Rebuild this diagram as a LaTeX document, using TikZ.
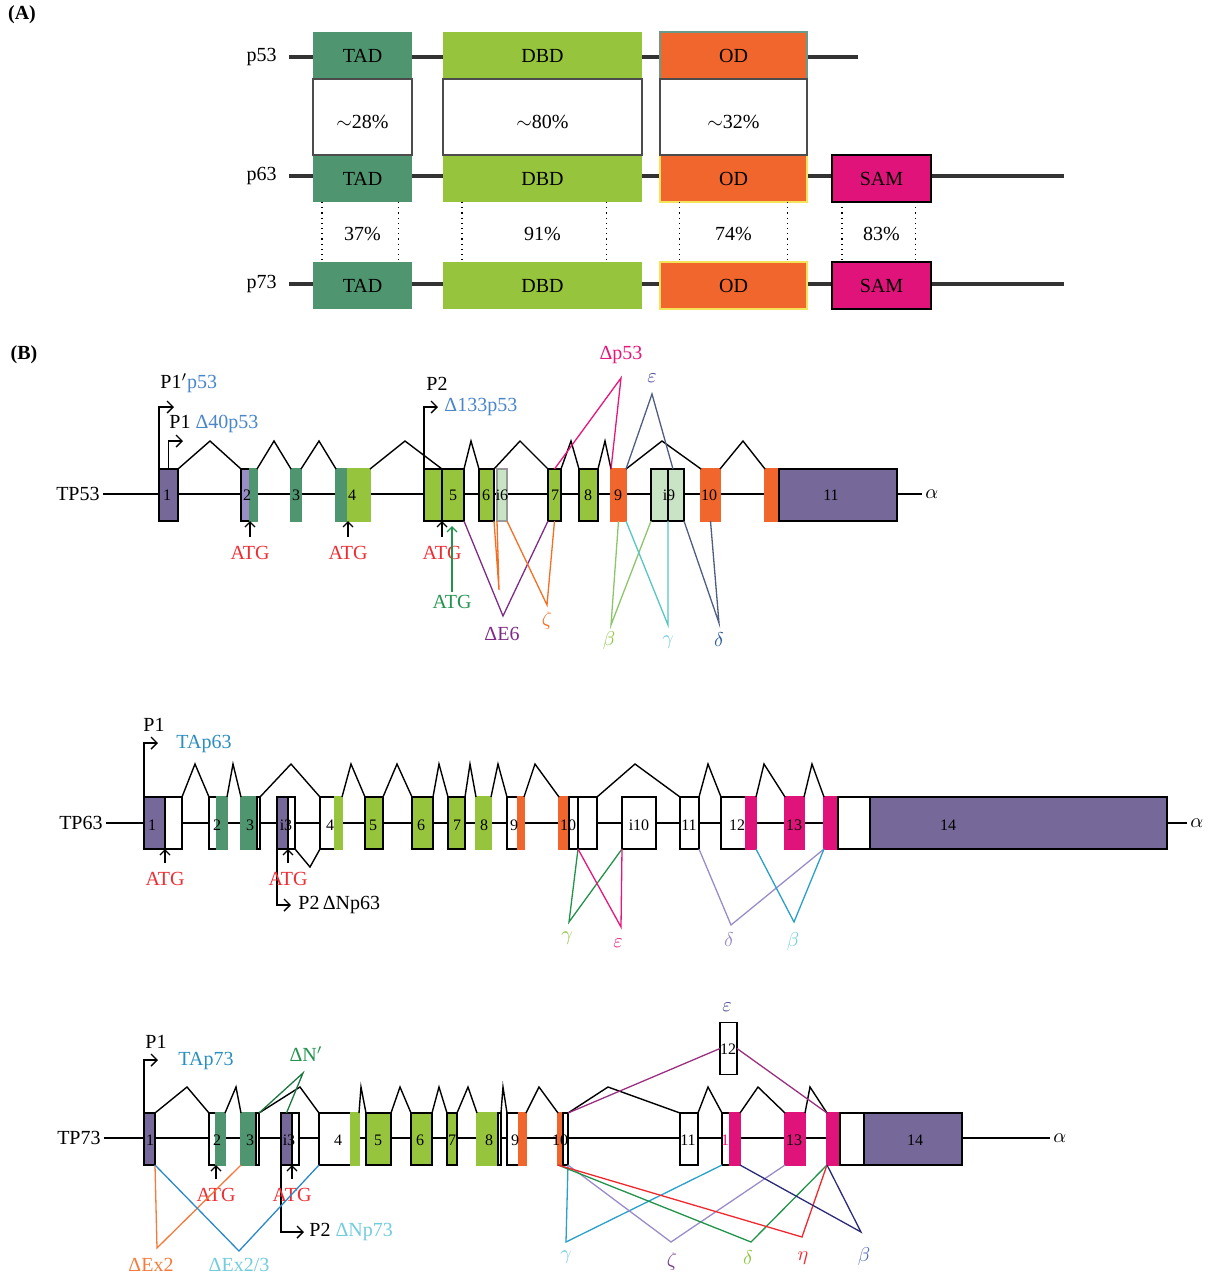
\documentclass[tikz,border=0pt]{standalone}
\usepackage{fontspec}
\setmainfont{Liberation Serif}
\usetikzlibrary{arrows.meta,calc}

% exon / domain colours
\definecolor{pur}{HTML}{76699A}
\definecolor{lpur}{HTML}{9A8CC5}
\definecolor{dgrn}{HTML}{4F9670}
\definecolor{lgrn}{HTML}{96C43C}
\definecolor{pgrn}{HTML}{C8E4C4}
\definecolor{orng}{HTML}{F0662C}
\definecolor{mag}{HTML}{E0137A}
\definecolor{boneg}{HTML}{333333}
\definecolor{odline}{HTML}{6A9A88}
\definecolor{odyel}{HTML}{F5E35A}
% label / splice colours
\definecolor{pblue}{HTML}{4A86C8}
\definecolor{tablue}{HTML}{2A8FBF}
\definecolor{ltcyan}{HTML}{72CCDD}
\definecolor{atgred}{HTML}{EE2D33}
\definecolor{atggrn}{HTML}{23934F}
\definecolor{pink}{HTML}{E5177B}
\definecolor{slate}{HTML}{4E5D80}
\definecolor{navy}{HTML}{2B2A78}
\definecolor{sgrn}{HTML}{8DC56B}
\definecolor{scyan}{HTML}{57C6C3}
\definecolor{viol}{HTML}{7E2B87}
\definecolor{zorng}{HTML}{F36F24}
\definecolor{dgline}{HTML}{20924A}
\definecolor{lav}{HTML}{9A8CC8}
\definecolor{bline}{HTML}{2A9FCA}
\definecolor{lgtxt}{HTML}{8CC63E}
\definecolor{eblue}{HTML}{3B3F8F}
\definecolor{dblue}{HTML}{2C5C9C}
\definecolor{exorng}{HTML}{F47B3C}
\definecolor{exblue}{HTML}{2A89C8}
\definecolor{eline}{HTML}{9B2F7F}
\definecolor{zlab}{HTML}{7A3A8A}
\definecolor{hred}{HTML}{F0282C}
\definecolor{bblue}{HTML}{4A68C0}

\tikzset{
  exon/.style={rectangle, inner sep=0pt, outer sep=0pt, minimum height=26pt, line width=0.9pt},
  dom/.style={rectangle, inner sep=0pt, outer sep=0pt, minimum height=23.5pt, line width=0.8pt, font=\fontsize{10}{12}\selectfont},
  num/.style={inner sep=0pt, font=\fontsize{8}{9}\selectfont},
  txt/.style={inner sep=1.5pt, font=\fontsize{10}{12}\selectfont},
  plab/.style={txt, anchor=east, inner xsep=6pt},
  atgt/.style={txt, anchor=north, text=atgred},
  bone/.style={line width=0.7pt},
  abone/.style={line width=2pt, draw=boneg},
  gapbox/.style={draw=black!70, line width=0.7pt},
  intron/.style={line width=0.7pt},
  splice/.style={line width=0.65pt},
  prom/.style={line width=0.7pt, -{Straight Barb[length=3pt,width=6pt]}},
  atgarr/.style={line width=0.7pt, shorten <=3pt, -{Straight Barb[length=2.5pt,width=5pt]}},
}

\begin{document}
\begin{tikzpicture}[x=0.5pt,y=-0.5pt]
\useasboundingbox (0,0) rectangle (1210,1276);

%% ---------------- (A) domains ----------------
\node[txt, font=\fontsize{10}{12}\selectfont\bfseries] (A) at (22,15) {(A)};

\foreach \r/\y in {53/57,63/176,73/284}
  \node[plab] (l\r) at (289,\y) {p\r};
\coordinate (e53) at (858,57);
\coordinate (e63) at (1064,176);
\coordinate (e73) at (1064,284);
\foreach \r in {53,63,73}
  \draw[abone] (l\r.east) -- (e\r);

\foreach \r/\y/\oc in {53/55.5/odline,63/178.5/odyel,73/285.5/odyel} {
  \node[dom, fill=dgrn, minimum width=49.5pt] (tad\r) at (362.5,\y) {TAD};
  \node[dom, fill=lgrn, minimum width=99.5pt] (dbd\r) at (542.5,\y) {DBD};
  \node[dom, fill=orng, draw=\oc, minimum width=73.5pt] (od\r) at (733.5,\y) {OD};
}
\foreach \r/\y in {63/178.5,73/285.5}
  \node[dom, fill=mag, draw=black, minimum width=49.5pt] (sam\r) at (881.5,\y) {SAM};

% p53 -> p63 identity
\foreach \d/\pc in {tad/28, dbd/80, od/32} {
  \draw[gapbox] (\d53.south west) rectangle (\d63.north east);
  \node[txt] (g\d) at ($(\d53.south)!.5!(\d63.north)+(0,5)$) {$\sim$\pc\%};
}
% p63 -> p73 identity
\foreach \d/\f in {tad/.09,tad/.86,dbd/.095,dbd/.82,od/.13,od/.87,sam/.1,sam/.84}
  \draw[dotted, line width=0.6pt] ($(\d63.south west)!\f!(\d63.south east)$) -- ($(\d73.north west)!\f!(\d73.north east)$);
\foreach \d/\pc in {tad/37, dbd/91, od/74, sam/83}
  \node[txt] (h\d) at ($(\d63.south)!.5!(\d73.north)+(0,2)$) {\pc\%};

%% ---------------- (B) TP53 ----------------
\node[txt, font=\fontsize{10}{12}\selectfont\bfseries] (B) at (24,355) {(B)};

\node[txt, anchor=east] (g53) at (103,494) {TP53};
\node[txt, anchor=west] (al53) at (922,494) {$\alpha$};
\draw[bone] (g53) -- (al53);

\foreach \n/\xa/\xb/\fc/\dc in {t1/159/178/pur/black, t2a/241/250/lpur/black, t2b/250/257/dgrn/dgrn,
    t3/291/301/dgrn/dgrn, t4a/336/348/dgrn/dgrn, t4b/348/370/lgrn/lgrn, t5a/424/442/lgrn/black,
    t5/442/464/lgrn/black, t6/479/494/lgrn/black, ti6/497/507/pgrn/black!40, t7/548/561/lgrn/black,
    t8/579/598/lgrn/black, t9/611/626/orng/orng, ti9a/651/668/pgrn/black, ti9/668/684/pgrn/black,
    t10/701/720/orng/orng, t11a/765/779/orng/orng, t11/779/897/pur/black}
  \node[exon, fill=\fc, draw=\dc, minimum width={(\xb-\xa)*0.5pt}] (\n) at ({(\xa+\xb)/2},495) {};
\foreach \x/\s in {167/1,247/2,296/3,352/4,453/5,486/6,502/i6,555/7,588/8,618/9,669/i9,709/10,831/11}
  \node[num] (n53-\s) at (\x,495) {\s};

% introns
\foreach \a/\b/\p in {t1/t2a/210, t2b/t3/274, t3/t4a/319, t4b/t5/405, t5/t6/471,
    t6/t7/520, t7/t8/571, t8/t9/605, t9/t10/662, t10/t11a/743}
  \draw[intron] (\a.north east) -- (\p,441) -- (\b.north west);

% promoters
\coordinate (a1p) at (174,407);
\coordinate (a1) at (183,441);
\coordinate (a2) at (438,407);
\draw[prom] (t1.north west) |- (a1p);
\draw[prom] (t1.north) |- (a1);
\draw[prom] (t5a.north west) |- (a2);
\node[txt, anchor=west] (p1pl) at (157,383) {P1$'$\textcolor{pblue}{p53}};
\node[txt, anchor=west] (p1l) at (166,424) {P1 \textcolor{pblue}{Δ40p53}};
\node[txt] (p2l) at (437,384) {P2};
\node[txt, anchor=west, text=pblue] (d133) at (441,407) {Δ133p53};

% start codons
\foreach \e/\k in {t2a.south east/1, t4a.south east/2, t5.south west/3} {
  \node[atgt] (atg\k) at ($(\e)+(0,22)$) {ATG};
  \draw[atgarr] (atg\k.north) -- (\e);
}
\node[txt, anchor=north, text=atggrn] (atg4) at (452,592) {ATG};
\draw[atgarr, atggrn, shorten <=0pt, shorten >=2.5pt] (atg4.north) -- (atg4.north |- t5.south);

% splice variants
\draw[splice, pink] (t7.north) -- (621,378) -- (t9.north west);
\draw[splice, slate] (t9.north east) -- (652,394) -- ([xshift=-1.5pt]ti9.north);
\draw[splice, viol] (t5.south east) -- (503,616) -- (t7.south west);
\draw[splice, zorng] (t6.south east) -- (499,590) -- (ti6.south west);
\draw[splice, zorng] (ti6.south east) -- (547,605) -- (t7.south);
\draw[splice, sgrn] (t9.south) -- (611,625) -- (ti9a.south west);
\draw[splice, scyan] (t9.south east) -- (668,625) -- (ti9.south west);
\draw[splice, slate] (ti9.south east) -- (719,623) -- (t10.south);
\node[txt, text=pink] (dp53) at (621,355) {Δp53};
\node[txt, text=eblue] (eps53) at (652,378) {$\varepsilon$};
\node[txt, text=viol] (de6) at (502,634) {ΔE6};
\node[txt, text=zorng] (zet53) at (547,620) {$\zeta$};
\node[txt, text=lgtxt] (bet53) at (609,640) {$\beta$};
\node[txt, text=ltcyan] (gam53) at (668,642) {$\gamma$};
\node[txt, text=dblue] (del53) at (719,640) {$\delta$};

%% ---------------- TP63 ----------------
\node[txt, anchor=east] (g63) at (106,823) {TP63};
\node[txt, anchor=west] (al63) at (1187,823) {$\alpha$};
\draw[bone] (g63) -- (al63);

\foreach \n/\xa/\xb/\fc/\dc in {u1a/144/165/pur/black, u1b/165/182/white/black, u2a/209/217/white/black,
    u2b/217/227/dgrn/dgrn, u3a/241/257/dgrn/dgrn, u3b/257/260/white/black, ui3a/277/288/pur/black,
    ui3b/288/295/white/black, u4a/320/335/white/black, u4b/335/342/lgrn/lgrn, u5/365/383/lgrn/black,
    u6/412/433/lgrn/black, u7/448/465/lgrn/black, u8/476/491/lgrn/lgrn, u9a/507/518/white/black,
    u9b/518/524/orng/orng, u10a/559/569/orng/orng, u10b/569/578/white/black, u10c/578/597/white/black,
    ui10/622/656/white/black, u11/680/699/white/black, u12a/721/746/white/black, u12b/746/756/mag/mag,
    u13/785/804/mag/mag, u14a/824/838/mag/mag, u14b/838/870/white/black, u14/870/1167/pur/black}
  \node[exon, fill=\fc, draw=\dc, minimum width={(\xb-\xa)*0.5pt}] (\n) at ({(\xa+\xb)/2},823) {};
\foreach \x/\s in {152/1,217/2,250/3,286/i3,330/4,373/5,421/6,457/7,484/8,514/9,568/10,639/i10,689/11,737/12,794/13,948/14}
  \node[num] (n63-\s) at (\x,825) {\s};

\foreach \a/\b/\p in {u1b/u2a/195, u2b/u3a/233, u3b/u4a/291, u4b/u5/351, u5/u6/397, u6/u7/439,
    u7/u8/470, u8/u9a/498, u9b/u10a/535, u10c/u11/635, u11/u12a/708, u12b/u13/764, u13/u14a/812}
  \draw[intron] (\a.north east) -- (\p,764) -- (\b.north west);
\draw[intron] (ui3b.south east) -- (310,867) -- (u4a.south west);

\coordinate (b1) at (158,743);
\coordinate (b2) at (291,905);
\draw[prom] (u1a.north west) |- (b1);
\draw[prom] (ui3a.south west) |- (b2);
\node[txt] (q1) at (154,725) {P1};
\node[txt, text=tablue] (tap63) at (204,744) {TAp63};
\node[txt, anchor=west] (q2) at (295,905) {P2\,ΔNp63};

\foreach \e/\k in {u1a.south east/5, ui3a.south east/6} {
  \node[atgt] (atg\k) at ($(\e)+(0,20)$) {ATG};
  \draw[atgarr] (atg\k.north) -- (\e);
}

\draw[splice, dgline] (u10c.south west) -- (569,922) -- (ui10.south west);
\draw[splice, pink] (u10c.south west) -- (621,927) -- (ui10.south west);
\draw[splice, lav] (u11.south east) -- (731,925) -- (u14a.south west);
\draw[splice, bline] (u12b.south east) -- (794,922) -- (u14a.south west);
\node[txt, text=lgtxt] (gam63) at (567,938) {$\gamma$};
\node[txt, text=pink] (eps63) at (618,943) {$\varepsilon$};
\node[txt, text=lav] (del63) at (729,940) {$\delta$};
\node[txt, text=ltcyan] (bet63) at (793,941) {$\beta$};

%% ---------------- TP73 ----------------
\node[txt, anchor=east] (g73) at (104,1138) {TP73};
\node[txt, anchor=west] (al73) at (1050,1138) {$\alpha$};
\draw[bone] (g73) -- (al73);

\foreach \n/\xa/\xb/\fc/\dc in {v1/144/155/pur/black, v2a/209/216/white/black, v2b/216/225/dgrn/dgrn,
    v3a/241/256/dgrn/dgrn, v3b/256/259/white/black, vi3a/281/292/pur/black, vi3b/292/299/white/black,
    v4a/319/351/white/black, v4b/351/359/lgrn/lgrn, v5/366/391/lgrn/black, v6/411/432/lgrn/black,
    v7/447/457/lgrn/black, v8a/477/498/lgrn/lgrn, v8b/498/501/white/black, v9a/507/519/white/black,
    v9b/519/526/orng/orng, v10a/558/563/orng/orng, v10b/563/568/white/black, v11/680/698/white/black,
    v12a/722/730/white/black, v12b/730/740/mag/mag, v13/785/805/mag/mag, v14a/827/840/mag/mag,
    v14b/840/864/white/black, v14/864/962/pur/black}
  \node[exon, fill=\fc, draw=\dc, minimum width={(\xb-\xa)*0.5pt}] (\n) at ({(\xa+\xb)/2},1139) {};
\node[exon, fill=white, draw=black, minimum width=8.5pt] (vx12) at (728.5,1048.5) {};
\foreach \x/\s in {150/1,217/2,250/3,289/i3,338/4,378/5,420/6,452/7,489/8,515/9,560/10,688/11,794/13,915/14}
  \node[num] (n73-\s) at (\x,1140) {\s};
\node[num, text=mag] (n73-12) at (729,1140) {12};
\node[num] (nx12) at (728,1049) {12};

\foreach \a/\b/\p in {v1/v2a/187, v2b/v3a/236, v3b/v4a/300, v4b/v5/361, v5/v6/400, v6/v7/439,
    v7/v8a/468, v8b/v9a/503, v9b/v10a/539, v10b/v11/608, v11/v12a/708, v12b/v13/758, v13/v14a/810}
  \draw[intron] (\a.north east) -- (\p,1087) -- (\b.north west);

\coordinate (c1) at (158,1060);
\coordinate (c2) at (304,1232);
\draw[prom] (v1.north west) |- (c1);
\draw[prom] (vi3a.south west) |- (c2);
\node[txt] (r1) at (156,1042) {P1};
\node[txt, text=tablue] (tap73) at (206,1061) {TAp73};
\node[txt, anchor=west] (r2) at (306,1232) {P2 \textcolor{ltcyan}{ΔNp73}};

\foreach \e/\k in {v2a.south east/7, vi3a.south east/8} {
  \node[atgt] (atg\k) at ($(\e)+(0,20)$) {ATG};
  \draw[atgarr] (atg\k.north) -- (\e);
}

\draw[splice, eline] (v10b.north east) -- (vx12.west);
\draw[splice, eline] (vx12.east) -- (v14a.north west);
\draw[splice, atggrn!80!black] (v3b.north east) -- (303,1073) -- (vi3a.north);
\draw[splice, exorng] (v1.south east) -- (157,1248) -- (v3a.south west);
\draw[splice, exblue] (v1.south east) -- (239,1251) -- (v4a.south west);
\draw[splice, bline] (v10b.south east) -- (566,1242) -- (v12a.south west);
\draw[splice, lav] (v10b.south east) -- (671,1242) -- (v13.south west);
\draw[splice, dgline] (v10a.south west) -- (751,1242) -- (v14a.south west);
\draw[splice, hred] (v10a.south west) -- (802,1237) -- (v14a.south west);
\draw[splice, navy] (v12b.south east) -- (861,1232) -- (v14a.south west);
\node[txt, text=eblue] (eps73) at (727,1007) {$\varepsilon$};
\node[txt, text=atggrn] (dn73) at (306,1054) {ΔN$'$};
\node[txt, text=exorng] (dex2) at (151,1265) {ΔEx2};
\node[txt, text=ltcyan] (dex23) at (239,1265) {ΔEx2/3};
\node[txt, text=ltcyan] (gam73) at (566,1257) {$\gamma$};
\node[txt, text=zlab] (zet73) at (672,1261) {$\zeta$};
\node[txt, text=lgtxt] (del73) at (748,1258) {$\delta$};
\node[txt, text=hred] (eta73) at (803,1258) {$\eta$};
\node[txt, text=bblue] (bet73) at (864,1256) {$\beta$};
\end{tikzpicture}
\end{document}
